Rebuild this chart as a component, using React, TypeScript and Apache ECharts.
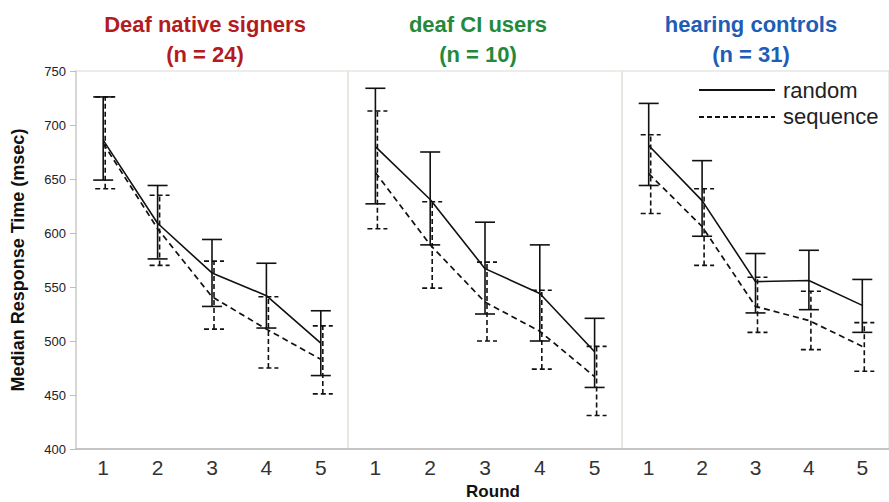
import React, { useEffect, useRef } from "react";
import * as echarts from "echarts";

const rounds = ["1", "2", "3", "4", "5"];

const panelTitles = ["Deaf native signers", "deaf CI users", "hearing controls"];
const panelCounts = ["(n = 24)", "(n = 10)", "(n = 31)"];
const panelColors = ["#b31b1f", "#24893a", "#1e5db5"];

// Panel 1: Deaf native signers
const randMean1 = [686, 609, 563, 542, 498];
const randLow1 = [649, 576, 532, 512, 468];
const randHigh1 = [726, 644, 594, 572, 528];
const seqMean1 = [683, 604, 541, 511, 483];
const seqLow1 = [641, 570, 511, 475, 451];
const seqHigh1 = [726, 635, 574, 541, 514];

// Panel 2: deaf CI users
const randMean2 = [680, 631, 567, 544, 490];
const randLow2 = [627, 589, 525, 500, 457];
const randHigh2 = [734, 675, 610, 589, 521];
const seqMean2 = [656, 589, 536, 509, 467];
const seqLow2 = [604, 549, 500, 474, 431];
const seqHigh2 = [713, 629, 573, 547, 495];

// Panel 3: hearing controls
const randMean3 = [681, 630, 555, 556, 533];
const randLow3 = [644, 597, 526, 529, 508];
const randHigh3 = [720, 667, 581, 584, 557];
const seqMean3 = [655, 606, 532, 519, 495];
const seqLow3 = [618, 570, 508, 492, 472];
const seqHigh3 = [691, 641, 559, 546, 517];

const yMin = 400;
const yMax = 750;
const yStep = 50;

const FONT = "'Liberation Sans', Arial, Helvetica, sans-serif";
const INK = "#111";
const DASH = [6, 4];

const panels = [
  { rm: randMean1, rl: randLow1, rh: randHigh1, sm: seqMean1, sl: seqLow1, sh: seqHigh1 },
  { rm: randMean2, rl: randLow2, rh: randHigh2, sm: seqMean2, sl: seqLow2, sh: seqHigh2 },
  { rm: randMean3, rl: randLow3, rh: randHigh3, sm: seqMean3, sl: seqLow3, sh: seqHigh3 },
];

function errRender(dx: number, dashed: boolean) {
  return (params: any, api: any) => {
    const i = api.value(0);
    const pLo = api.coord([i, api.value(1)]);
    const pHi = api.coord([i, api.value(2)]);
    const cx = pLo[0] + dx;
    const style = {
      stroke: INK,
      lineWidth: 1.6,
      fill: null,
      lineDash: dashed ? [5, 3] : null,
    };
    return {
      type: "group",
      children: [
        { type: "line", shape: { x1: cx, y1: pLo[1], x2: cx, y2: pHi[1] }, style },
        { type: "line", shape: { x1: cx - 10, y1: pHi[1], x2: cx + 10, y2: pHi[1] }, style },
        { type: "line", shape: { x1: cx - 10, y1: pLo[1], x2: cx + 10, y2: pLo[1] }, style },
      ],
    };
  };
}

export default function App() {
  const ref = useRef<HTMLDivElement>(null);

  useEffect(() => {
    if (!ref.current) return;
    const chart = echarts.init(ref.current, undefined, { renderer: "svg" });

    const gridDefs = [
      { left: 76, right: 541 },
      { left: 348, right: 267 },
      { left: 622, right: -2 },
    ];

    const grid = gridDefs.map((g) => ({
      left: g.left,
      right: g.right,
      top: 71,
      bottom: 53,
      show: true,
      borderColor: "#e6e6e1",
      borderWidth: 1.5,
      backgroundColor: "transparent",
    }));

    const xAxis = gridDefs.map((_, k) => ({
      type: "category",
      gridIndex: k,
      data: rounds,
      boundaryGap: true,
      axisLine: { show: true, lineStyle: { color: "#c4c4c4", width: 2 } },
      axisTick: { show: false },
      axisLabel: { fontSize: 21, color: "#333", fontFamily: FONT, margin: 8 },
      splitLine: { show: false },
    }));

    const yAxis = gridDefs.map((_, k) => ({
      type: "value",
      gridIndex: k,
      min: yMin,
      max: yMax,
      interval: yStep,
      show: k === 0,
      name: k === 0 ? "Median Response Time (msec)" : "",
      nameLocation: "middle",
      nameGap: 49,
      nameTextStyle: { fontSize: 18, fontWeight: "bold", color: "#111", fontFamily: FONT },
      axisLine: { show: true, lineStyle: { color: "#cfcfcf", width: 1.5 } },
      axisTick: { show: true, length: 6, lineStyle: { color: "#bdbdbd" } },
      axisLabel: { fontSize: 13, color: "#222", fontFamily: FONT, margin: 10 },
      splitLine: { show: false },
    }));

    const series: any[] = [];
    panels.forEach((p, k) => {
      series.push({
        type: "line",
        name: "random",
        xAxisIndex: k,
        yAxisIndex: k,
        data: p.rm,
        symbol: "none",
        lineStyle: { color: INK, width: 1.6, type: "solid" },
        z: 3,
      });
      series.push({
        type: "line",
        name: "sequence",
        xAxisIndex: k,
        yAxisIndex: k,
        data: p.sm,
        symbol: "none",
        lineStyle: { color: INK, width: 1.7, type: DASH },
        z: 3,
      });
      series.push({
        type: "custom",
        name: "random error",
        xAxisIndex: k,
        yAxisIndex: k,
        renderItem: errRender(0, false),
        encode: { x: 0, y: [1, 2] },
        data: p.rl.map((lo, i) => [i, lo, p.rh[i]]),
        z: 4,
      });
      series.push({
        type: "custom",
        name: "sequence error",
        xAxisIndex: k,
        yAxisIndex: k,
        renderItem: errRender(2, true),
        encode: { x: 0, y: [1, 2] },
        data: p.sl.map((lo, i) => [i, lo, p.sh[i]]),
        z: 4,
      });
    });

    const titleCenters = [205, 478, 751];
    const graphic: any[] = [];
    titleCenters.forEach((cx, k) => {
      graphic.push({
        type: "text",
        x: cx,
        y: 24,
        style: {
          text: panelTitles[k],
          fill: panelColors[k],
          font: `bold 22px ${FONT}`,
          textAlign: "center",
          textVerticalAlign: "middle",
        },
      });
      graphic.push({
        type: "text",
        x: cx,
        y: 54,
        style: {
          text: panelCounts[k],
          fill: panelColors[k],
          font: `bold 22px ${FONT}`,
          textAlign: "center",
          textVerticalAlign: "middle",
        },
      });
    });

    // legend
    graphic.push({
      type: "line",
      shape: { x1: 699, y1: 90, x2: 775, y2: 90 },
      style: { stroke: INK, lineWidth: 1.8 },
    });
    graphic.push({
      type: "line",
      shape: { x1: 699, y1: 117, x2: 775, y2: 117 },
      style: { stroke: INK, lineWidth: 1.8, lineDash: [5, 3] },
    });
    graphic.push({
      type: "text",
      x: 783,
      y: 90,
      style: {
        text: "random",
        fill: "#222",
        font: `22px ${FONT}`,
        textAlign: "left",
        textVerticalAlign: "middle",
      },
    });
    graphic.push({
      type: "text",
      x: 783,
      y: 116,
      style: {
        text: "sequence",
        fill: "#222",
        font: `22px ${FONT}`,
        textAlign: "left",
        textVerticalAlign: "middle",
      },
    });
    // x-axis title
    graphic.push({
      type: "text",
      x: 493,
      y: 491,
      style: {
        text: "Round",
        fill: "#111",
        font: `bold 17px ${FONT}`,
        textAlign: "center",
        textVerticalAlign: "middle",
      },
    });

    chart.setOption({
      animation: false,
      backgroundColor: "#ffffff",
      grid,
      xAxis,
      yAxis,
      series,
      graphic,
    });

    return () => chart.dispose();
  }, []);

  return (
    <div
      ref={ref}
      style={{ position: "absolute", left: 0, top: 0, width: 889, height: 502 }}
    />
  );
}
